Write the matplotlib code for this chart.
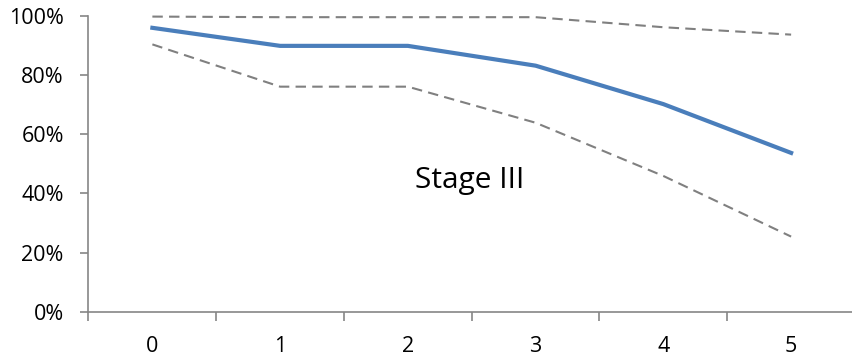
import numpy as np
import matplotlib.pyplot as plt
from matplotlib.ticker import FixedLocator, FuncFormatter, NullFormatter

years = [0, 1, 2, 3, 4, 5]
survival = [0.960, 0.899, 0.899, 0.832, 0.702, 0.537]
upper_ci = [0.998, 0.996, 0.996, 0.996, 0.962, 0.937]
lower_ci = [0.904, 0.761, 0.761, 0.639, 0.459, 0.254]
y_ticks = [0, 0.2, 0.4, 0.6, 0.8, 1.0]

plt.rcParams['font.family'] = ['Open Sans', 'DejaVu Sans']

fig = plt.figure(figsize=(8.53, 3.6), dpi=100)
ax = fig.add_axes([88.5 / 853, 48.3 / 360, 766.5 / 853, 295.7 / 360])

x = np.arange(len(years))
gray = '#808080'
ax.plot(x, upper_ci, color=gray, lw=1.5, dashes=(5, 3), clip_on=False)
ax.plot(x, lower_ci, color=gray, lw=1.5, dashes=(5, 3), clip_on=False)
ax.plot(x, survival, color='#4A7EBB', lw=3, solid_joinstyle='round', clip_on=False)

ax.set_xlim(-0.5, len(years) - 0.5)
ax.set_ylim(0, 1)

# category boundaries get the tick marks, labels sit in between
ax.xaxis.set_major_locator(FixedLocator(np.arange(-0.5, len(years), 1.0)))
ax.xaxis.set_major_formatter(NullFormatter())
ax.xaxis.set_minor_locator(FixedLocator(x))
ax.set_xticklabels([str(v) for v in years], minor=True)
ax.tick_params(axis='x', which='minor', length=0, pad=17.5, labelsize=15.5)
ax.tick_params(axis='x', which='major', length=6.5, width=1.2, color='#868686')

ax.set_yticks(y_ticks)
ax.yaxis.set_major_formatter(FuncFormatter(lambda v, p: f'{v * 100:.0f}%'))
ax.tick_params(axis='y', length=5.8, width=1.2, color='#868686', pad=12, labelsize=15.5)

for side in ['top', 'right']:
    ax.spines[side].set_visible(False)
for side in ['left', 'bottom']:
    ax.spines[side].set_color('#868686')
    ax.spines[side].set_linewidth(1.2)

ax.text(2.48, 0.417, 'Stage III', fontsize=21.5, ha='center', va='baseline')

fig.savefig('out.png', dpi=100)
